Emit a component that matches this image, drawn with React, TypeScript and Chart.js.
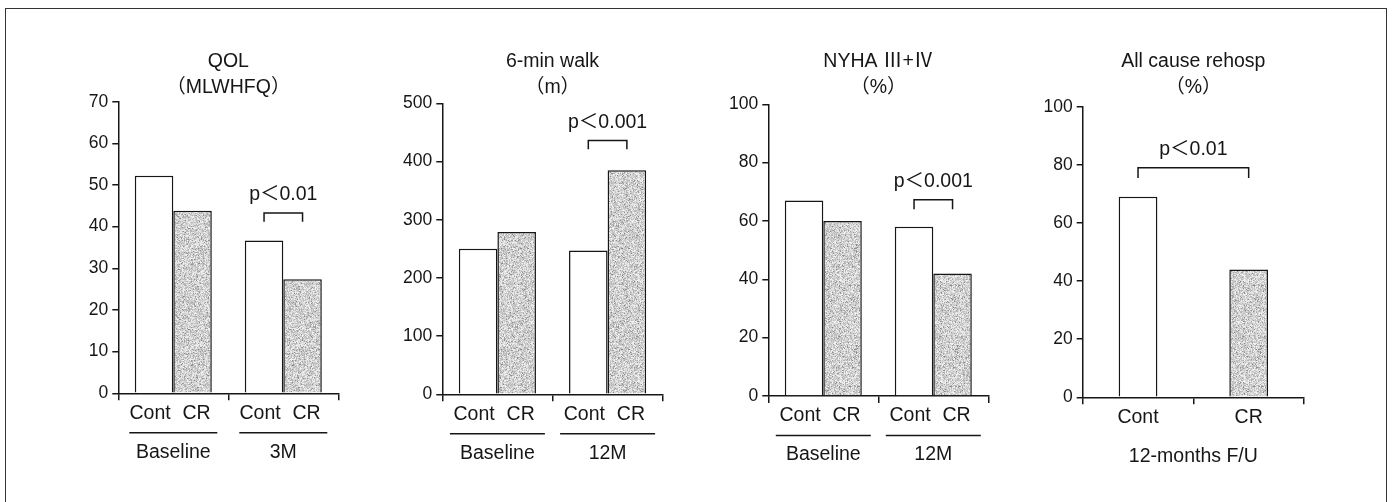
import React, { useEffect, useRef } from "react";
import { Chart, registerables } from "chart.js";

Chart.register(...registerables);

// ---------------- data ----------------
const armLabels = ["Cont", "CR"];

const qolGroups = ["Baseline", "3M"];
const qolCont = [52.2, 36.7];
const qolCR = [43.8, 27.4];
const qolBracket = [43.3, 41.2]; // bracket top / leg end (data units)

const walkGroups = ["Baseline", "12M"];
const walkCont = [250, 247];
const walkCR = [279, 385];
const walkBracket = [436, 421];

const nyhaGroups = ["Baseline", "12M"];
const nyhaCont = [67, 58];
const nyhaCR = [60, 42];
const nyhaBracket = [67.3, 64];

const rehospArms = ["Cont", "CR"];
const rehospValues = [69, 44];
const rehospBracket = [79, 75.5];

const qolTitle = ["QOL", "（MLWHFQ）"];
const walkTitle = ["6-min walk", "（m）"];
const nyhaTitle = ["NYHA Ⅲ+Ⅳ", "（%）"];
const rehospTitle = ["All cause rehosp", "（%）"];

const qolP = "p＜0.01";
const walkP = "p＜0.001";
const nyhaP = "p＜0.001";
const rehospP = "p＜0.01";
const rehospFooter = "12-months F/U";

// ---------------- style / layout ----------------
const W = 1395;
const H = 502;
const YW = 60;
const XH = 10;
const INK = "#161616";
const FONT = '"Liberation Sans", Arial, "Noto Sans CJK JP", sans-serif';
const ARM_SHIFT = [-4, 4];

type Area = { left: number; right: number; top: number; bottom: number };

type PanelCfg = {
  title: string[];
  groups: string[];
  cont?: number[];
  cr?: number[];
  single?: number[];
  yMax: number;
  yStep: number;
  pText: string;
  bracket: number[];
  bracketGroup: number;
  area: Area;
  underline: number;
  footer?: string;
};

const panels: PanelCfg[] = [
  {
    title: qolTitle,
    groups: qolGroups,
    cont: qolCont,
    cr: qolCR,
    yMax: 70,
    yStep: 10,
    pText: qolP,
    bracket: qolBracket,
    bracketGroup: 1,
    area: { left: 118.3, right: 338.3, top: 101.7, bottom: 393.3 },
    underline: 88,
  },
  {
    title: walkTitle,
    groups: walkGroups,
    cont: walkCont,
    cr: walkCR,
    yMax: 500,
    yStep: 100,
    pText: walkP,
    bracket: walkBracket,
    bracketGroup: 1,
    area: { left: 442.3, right: 662.7, top: 103.3, bottom: 394.3 },
    underline: 95,
  },
  {
    title: nyhaTitle,
    groups: nyhaGroups,
    cont: nyhaCont,
    cr: nyhaCR,
    yMax: 100,
    yStep: 20,
    pText: nyhaP,
    bracket: nyhaBracket,
    bracketGroup: 1,
    area: { left: 768.3, right: 988.3, top: 104.3, bottom: 396 },
    underline: 95,
  },
  {
    title: rehospTitle,
    groups: rehospArms,
    single: rehospValues,
    yMax: 100,
    yStep: 20,
    pText: rehospP,
    bracket: rehospBracket,
    bracketGroup: 0,
    area: { left: 1082.7, right: 1304, top: 106.7, bottom: 397.3 },
    underline: 0,
    footer: rehospFooter,
  },
];

function hash01(x: number, y: number, s: number): number {
  let n = Math.imul(x, 374761393) + Math.imul(y, 668265263) + Math.imul(s, 1442695041);
  n = Math.imul(n ^ (n >>> 13), 1274126177);
  n = n ^ (n >>> 16);
  return ((n >>> 0) % 10007) / 10007;
}

function makeStipple(): CanvasPattern | string {
  const c = document.createElement("canvas");
  const size = 101;
  c.width = size;
  c.height = size;
  const ctx = c.getContext("2d");
  if (!ctx) return "#c8c8c8";
  const img = ctx.createImageData(size, size);
  for (let y = 0; y < size; y++) {
    for (let x = 0; x < size; x++) {
      const a = hash01(x, y, 1);
      const b = hash01(x, y, 2);
      let g = 244 - Math.floor(a * 66);
      if (b < 0.1) g = 135 + Math.floor(a * 45);
      const i = (y * size + x) * 4;
      img.data[i] = g;
      img.data[i + 1] = g;
      img.data[i + 2] = g;
      img.data[i + 3] = 255;
    }
  }
  ctx.putImageData(img, 0, 0);
  const p = ctx.createPattern(c, "repeat");
  return p || "#c8c8c8";
}

function makeAnnotPlugin(cfg: PanelCfg) {
  return {
    id: "annot",
    afterDraw(chart: any) {
      const ctx: CanvasRenderingContext2D = chart.ctx;
      const ca = chart.chartArea;
      const ys = chart.scales.y;
      const cx = (ca.left + ca.right) / 2;
      ctx.save();
      ctx.fillStyle = INK;
      ctx.strokeStyle = INK;
      ctx.textAlign = "center";
      ctx.textBaseline = "middle";
      // titles
      ctx.font = `19.5px ${FONT}`;
      ctx.fillText(cfg.title[0], cx, 61.5);
      ctx.fillText(cfg.title[1], cx, 88);

      const m0 = chart.getDatasetMeta(0).data;
      const m1 = cfg.single ? null : chart.getDatasetMeta(1).data;

      // bar labels
      ctx.font = `19.5px ${FONT}`;
      if (cfg.single) {
        m0.forEach((bar: any, j: number) => {
          ctx.fillText(cfg.groups[j], bar.x, ca.bottom + 20);
        });
        if (cfg.footer) ctx.fillText(cfg.footer, cx, ca.bottom + 59);
      } else {
        cfg.groups.forEach((g, j) => {
          const x0 = m0[j].x;
          const x1 = m1[j].x;
          ctx.fillText(armLabels[0], x0 + ARM_SHIFT[0], ca.bottom + 20);
          ctx.fillText(armLabels[1], x1 + ARM_SHIFT[1], ca.bottom + 20);
          const mid = (x0 + x1) / 2;
          ctx.lineWidth = 1.5;
          ctx.beginPath();
          ctx.moveTo(mid - cfg.underline / 2, ca.bottom + 39.5);
          ctx.lineTo(mid + cfg.underline / 2, ca.bottom + 39.5);
          ctx.stroke();
          ctx.fillText(g, mid, ca.bottom + 59);
        });
      }

      // bracket
      let bx0: number, bx1: number;
      if (cfg.single) {
        bx0 = m0[0].x;
        bx1 = m0[1].x;
      } else {
        bx0 = m0[cfg.bracketGroup].x;
        bx1 = m1[cfg.bracketGroup].x;
      }
      const yTop = ys.getPixelForValue(cfg.bracket[0]);
      const yLeg = ys.getPixelForValue(cfg.bracket[1]);
      ctx.lineWidth = 1.5;
      ctx.beginPath();
      ctx.moveTo(bx0, yLeg);
      ctx.lineTo(bx0, yTop);
      ctx.lineTo(bx1, yTop);
      ctx.lineTo(bx1, yLeg);
      ctx.stroke();
      ctx.font = `19.5px ${FONT}`;
      ctx.fillText(cfg.pText, (bx0 + bx1) / 2, yTop - 18);
      ctx.restore();
    },
  };
}

function buildChart(canvas: HTMLCanvasElement, cfg: PanelCfg, stipple: any) {
  const barStyle = {
    borderColor: INK,
    borderWidth: 1.5,
    borderSkipped: "bottom",
    barPercentage: 1.0,
  };
  const datasets: any[] = cfg.single
    ? [
        {
          data: cfg.single,
          backgroundColor: ["#ffffff", stipple],
          categoryPercentage: 0.35,
          ...barStyle,
        },
      ]
    : [
        { data: cfg.cont, backgroundColor: "#ffffff", categoryPercentage: 0.7, ...barStyle },
        { data: cfg.cr, backgroundColor: stipple, categoryPercentage: 0.7, ...barStyle },
      ];
  const a = cfg.area;
  return new Chart(canvas, {
    type: "bar",
    data: { labels: cfg.groups, datasets },
    options: {
      animation: false,
      responsive: false,
      maintainAspectRatio: false,
      devicePixelRatio: 1,
      layout: {
        padding: {
          left: a.left - YW,
          right: W - a.right,
          top: a.top,
          bottom: H - a.bottom - XH,
        },
      },
      plugins: {
        legend: { display: false },
        tooltip: { enabled: false },
        title: { display: false },
      },
      scales: {
        x: {
          offset: true,
          ticks: { display: false },
          grid: {
            display: true,
            offset: true,
            drawOnChartArea: false,
            drawTicks: true,
            tickLength: 7,
            color: INK,
            lineWidth: 1.5,
          },
          border: { display: true, color: INK, width: 1.5 },
          afterFit: (s: any) => {
            s.height = XH;
          },
        },
        y: {
          min: 0,
          max: cfg.yMax,
          ticks: {
            stepSize: cfg.yStep,
            font: { family: FONT, size: 17.5 },
            color: INK,
            padding: 4,
          },
          grid: {
            display: true,
            drawOnChartArea: false,
            drawTicks: true,
            tickLength: 6,
            color: INK,
            lineWidth: 1.5,
          },
          border: { display: true, color: INK, width: 1.5 },
          afterFit: (s: any) => {
            s.width = YW;
          },
        },
      },
    } as any,
    plugins: [makeAnnotPlugin(cfg)],
  } as any);
}

export default function App() {
  const refs = [
    useRef<HTMLCanvasElement>(null),
    useRef<HTMLCanvasElement>(null),
    useRef<HTMLCanvasElement>(null),
    useRef<HTMLCanvasElement>(null),
  ];

  useEffect(() => {
    const stipple = makeStipple();
    const charts: Chart[] = [];
    panels.forEach((p, i) => {
      const c = refs[i].current;
      if (c) charts.push(buildChart(c, p, stipple));
    });
    return () => {
      charts.forEach((c) => c.destroy());
    };
  }, []);

  return (
    <div
      style={{
        position: "absolute",
        left: 0,
        top: 0,
        width: W,
        height: H,
        overflow: "hidden",
        background: "#ffffff",
      }}
    >
      <div
        style={{
          position: "absolute",
          left: 5,
          top: 8,
          width: 1382,
          height: 560,
          borderTop: "1.5px solid #333",
          borderLeft: "1.5px solid #333",
          borderRight: "1.5px solid #333",
          boxSizing: "border-box",
        }}
      />
      {refs.map((r, i) => (
        <canvas
          key={i}
          ref={r}
          width={W}
          height={H}
          style={{ position: "absolute", left: 0, top: 0, width: W, height: H }}
        />
      ))}
    </div>
  );
}
